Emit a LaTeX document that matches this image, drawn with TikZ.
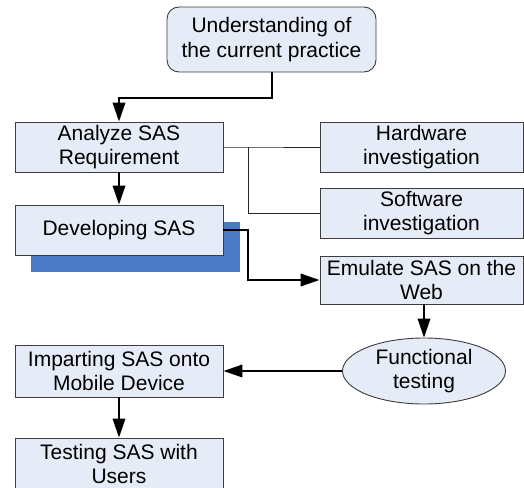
\documentclass[tikz,border=0pt]{standalone}
\usepackage{fontspec}
\setmainfont{Liberation Sans}
\usetikzlibrary{shapes.geometric,arrows.meta}
\definecolor{boxfill}{RGB}{230,236,247}
\definecolor{shadowblue}{RGB}{74,122,195}
\definecolor{edgegray}{RGB}{60,60,60}
\begin{document}
\begin{tikzpicture}[x=1pt,y=-1pt,
  every node/.style={font=\fontsize{21}{24.5}\selectfont, align=center, inner sep=0pt},
  box/.style={rectangle, draw=edgegray, line width=0.9pt, fill=boxfill},
  flow/.style={draw=black, line width=2pt, -{Triangle[length=19pt,width=12.5pt]}},
  link/.style={draw=black!85, line width=1pt}
]
\useasboundingbox (0,0) rectangle (524,487);
% shadow behind Developing SAS
\fill[shadowblue] (31,222) rectangle (240,272);

\node[box, rounded corners=12pt, minimum width=209pt, minimum height=65pt] (top) at (271.5,39.5) {Understanding of\\the current practice};
\node[box, minimum width=208pt, minimum height=50pt] (ana) at (119,147) {Analyze SAS\\Requirement};
\node[box, minimum width=203pt, minimum height=50pt] (hw) at (421.5,147) {Hardware\\investigation};
\node[box, minimum width=203pt, minimum height=50pt] (sw) at (421.5,213) {Software\\investigation};
\node[box, minimum width=208pt, minimum height=50pt] (dev) at (119,230) {Developing SAS};
\node[box, minimum width=203pt, minimum height=48pt] (emu) at (421.5,280) {Emulate SAS on the\\Web};
\node[ellipse, draw=edgegray, line width=0.9pt, fill=boxfill, minimum width=163pt, minimum height=66pt] (fun) at (424,371) {Functional\\testing};
\node[box, minimum width=208pt, minimum height=52pt] (imp) at (119,371) {Imparting SAS onto\\Mobile Device};
\node[box, minimum width=208pt, minimum height=52pt] (tst) at (119,464) {Testing SAS with\\Users};

\coordinate (j1) at (248,147);
\coordinate (j2) at (248,213);
\coordinate (j3) at (248,230);
\coordinate (j4) at (248,280);

\draw[flow] (top.south) |- (119,98) -- (ana.north);
\draw[link] (ana.east) -- (j1) -- (hw.west);
\draw[link] (j1) -- (j2) -- (sw.west);
\draw[flow] (ana.south) -- (dev.north);
\draw[flow] (dev.east) -- (j3) -- (j4) -- (emu.west);
\draw[flow] (emu.south -| fun.north) -- (fun.north);
\draw[flow] (fun.west) -- (imp.east);
\draw[flow] (imp.south) -- (tst.north);
\end{tikzpicture}
\end{document}
